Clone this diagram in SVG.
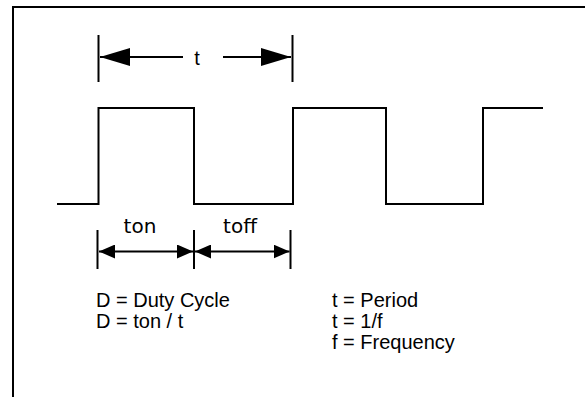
<svg xmlns="http://www.w3.org/2000/svg" width="585" height="397" viewBox="0 0 585 397">
<defs>
<style>
.ln{stroke:#000;stroke-width:2;fill:none}
.tk{stroke:#000;stroke-width:2}
.tx{font-family:"Liberation Sans",Arial,sans-serif;font-size:20px;fill:#000}
.lb{font-family:"DejaVu Sans",Verdana,sans-serif;font-size:20px;fill:#000}
</style>
<marker id="ah" viewBox="0 0 16 14" refX="16" refY="7" markerWidth="16" markerHeight="14" markerUnits="userSpaceOnUse" orient="auto-start-reverse">
<path d="M0,0 L16,7 L0,14 Z" fill="#000"/>
</marker>
<marker id="ahb" viewBox="0 0 30 18" refX="30" refY="9" markerWidth="30" markerHeight="18" markerUnits="userSpaceOnUse" orient="auto-start-reverse">
<path d="M0,0 L30,9 L0,18 Z" fill="#000"/>
</marker>
</defs>
<rect width="585" height="397" fill="#fff"/>
<g id="frame">
<path class="ln" d="M13,397 V7 H585"/>
</g>
<g id="waveform">
<path class="ln" d="M57,204 H98.5 V108 H194 V204 H293 V108 H386 V204 H483 V108 H543"/>
</g>
<g id="connectors">
<line class="tk" x1="98.5" y1="35" x2="98.5" y2="82"/>
<line class="tk" x1="292.5" y1="35" x2="292.5" y2="82"/>
<line class="tk" x1="183" y1="57" x2="100" y2="57" marker-end="url(#ahb)"/>
<line class="tk" x1="223" y1="57" x2="291" y2="57" marker-end="url(#ahb)"/>
<line class="tk" x1="97.5" y1="230" x2="97.5" y2="269"/>
<line class="tk" x1="194" y1="230" x2="194" y2="269"/>
<line class="tk" x1="290.5" y1="230" x2="290.5" y2="269"/>
<line class="tk" x1="99" y1="251.5" x2="193" y2="251.5" marker-start="url(#ah)" marker-end="url(#ah)"/>
<line class="tk" x1="195" y1="251.5" x2="289.5" y2="251.5" marker-start="url(#ah)" marker-end="url(#ah)"/>
</g>
<g id="labels">
<text class="tx" x="197" y="65" text-anchor="middle">t</text>
<text class="lb" x="140" y="233" text-anchor="middle">ton</text>
<text class="lb" x="240" y="233" text-anchor="middle">toff</text>
<text class="tx" x="96" y="307">D = Duty Cycle</text>
<text class="tx" x="96" y="328">D = ton / t</text>
<text class="tx" x="332" y="307">t = Period</text>
<text class="tx" x="332" y="328">t = 1/f</text>
<text class="tx" x="332" y="349">f = Frequency</text>
</g>
</svg>
